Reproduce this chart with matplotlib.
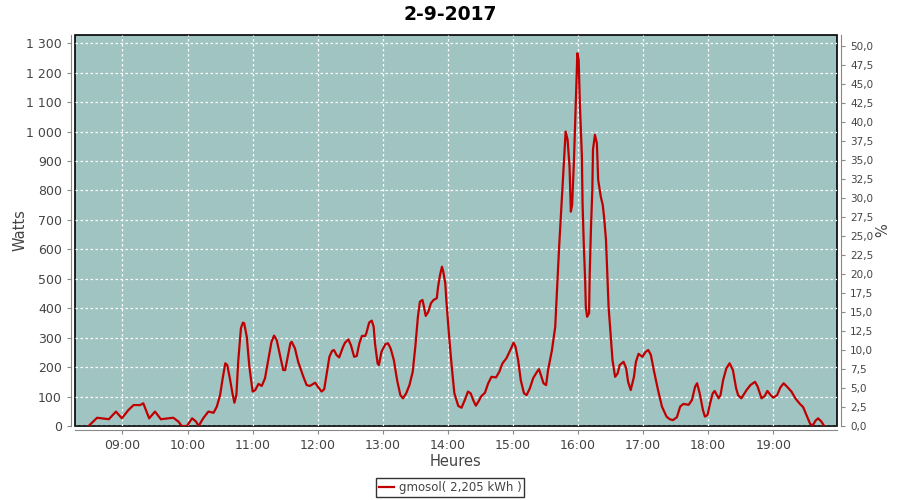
import matplotlib
matplotlib.use("Agg")
import matplotlib.pyplot as plt
from matplotlib.ticker import FuncFormatter, MultipleLocator

# heure décimale / puissance en watts
heures = [8.48, 8.61, 8.79, 8.90, 8.99, 9.09, 9.17, 9.27, 9.32, 9.35, 9.41, 9.50, 9.59,
          9.78, 9.86, 9.91, 9.99, 10.07, 10.13, 10.17, 10.24, 10.32, 10.40, 10.45, 10.50,
          10.54, 10.58, 10.61, 10.65, 10.69, 10.72, 10.75, 10.78, 10.82, 10.85, 10.87,
          10.91, 10.95, 11.00, 11.04, 11.09, 11.14, 11.19, 11.24, 11.29, 11.33, 11.37,
          11.42, 11.47, 11.50, 11.53, 11.58, 11.60, 11.65, 11.70, 11.78, 11.83, 11.88,
          11.96, 12.01, 12.06, 12.10, 12.14, 12.18, 12.22, 12.25, 12.29, 12.33, 12.39,
          12.42, 12.47, 12.51, 12.56, 12.60, 12.64, 12.68, 12.73, 12.75, 12.79, 12.83,
          12.86, 12.88, 12.92, 12.94, 12.98, 13.04, 13.08, 13.12, 13.17, 13.22, 13.27,
          13.31, 13.36, 13.41, 13.46, 13.50, 13.54, 13.57, 13.61, 13.63, 13.66, 13.70,
          13.74, 13.78, 13.83, 13.85, 13.88, 13.91, 13.93, 13.96, 13.98, 14.02, 14.06,
          14.10, 14.16, 14.21, 14.26, 14.31, 14.35, 14.39, 14.43, 14.47, 14.51, 14.57,
          14.62, 14.67, 14.74, 14.79, 14.84, 14.90, 14.96, 15.01, 15.04, 15.08, 15.12,
          15.17, 15.21, 15.26, 15.31, 15.37, 15.40, 15.43, 15.47, 15.51, 15.54, 15.60,
          15.65, 15.68, 15.71, 15.75, 15.79, 15.81, 15.84, 15.87, 15.89, 15.91, 15.94,
          15.97, 15.99, 16.01, 16.03, 16.06, 16.07, 16.09, 16.11, 16.12, 16.14, 16.17,
          16.18, 16.20, 16.22, 16.23, 16.26, 16.29, 16.31, 16.35, 16.38, 16.40, 16.43,
          16.45, 16.47, 16.50, 16.53, 16.57, 16.61, 16.64, 16.70, 16.74, 16.77, 16.81,
          16.86, 16.89, 16.93, 16.99, 17.04, 17.08, 17.12, 17.17, 17.23, 17.29, 17.36,
          17.41, 17.46, 17.52, 17.57, 17.62, 17.70, 17.75, 17.80, 17.83, 17.87, 17.92,
          17.95, 17.99, 18.03, 18.07, 18.10, 18.16, 18.19, 18.23, 18.28, 18.33, 18.38,
          18.43, 18.46, 18.51, 18.59, 18.65, 18.72, 18.76, 18.82, 18.87, 18.91, 18.96,
          19.00, 19.06, 19.11, 19.16, 19.21, 19.28, 19.34, 19.41, 19.46, 19.52, 19.57,
          19.61, 19.65, 19.69, 19.74, 19.78]
watts = [0, 28, 23, 49, 26, 54, 71, 71, 77, 60, 26, 49, 23,
         28, 15, 0, 0, 26, 15, 0, 26, 49, 45, 66, 105,
         162, 213, 207, 162, 111, 79, 105, 224, 332, 351, 349,
         303, 201, 117, 122, 143, 136, 162, 224, 286, 307, 292,
         241, 190, 190, 224, 281, 286, 264, 218, 167, 139, 136,
         147, 131, 117, 125, 179, 235, 255, 258, 241, 233, 269,
         283, 294, 275, 235, 238, 281, 306, 306, 317, 351, 358,
         337, 281, 213, 207, 252, 278, 281, 264, 224, 156, 105,
         94, 111, 139, 184, 269, 371, 422, 428, 408, 374, 388,
         417, 428, 434, 473, 513, 541, 524, 485, 417, 303, 201,
         111, 68, 62, 88, 117, 111, 88, 69, 83, 100, 113,
         145, 167, 165, 184, 213, 230, 258, 283, 269, 224, 156,
         111, 105, 128, 162, 184, 193, 173, 145, 139, 190, 258,
         337, 473, 609, 768, 926, 1000, 972, 881, 728, 751, 915,
         1130, 1266, 1243, 1085, 915, 756, 609, 496, 405, 371, 383,
         519, 677, 802, 938, 989, 960, 836, 779, 751, 711, 632,
         519, 405, 315, 224, 167, 179, 207, 218, 196, 150, 122,
         167, 218, 245, 235, 252, 258, 241, 184, 122, 66, 32,
         23, 20, 30, 66, 75, 72, 88, 134, 145, 111, 54,
         32, 37, 77, 111, 119, 94, 105, 156, 196, 213, 190,
         128, 105, 94, 122, 139, 150, 134, 94, 102, 119, 105,
         96, 105, 131, 145, 134, 117, 94, 75, 64, 32, 6,
         3, 18, 26, 15, 1]

titre = "2-9-2017"
legende = "gmosol( 2,205 kWh )"
w_max = 1328
w_par_pct = 25.8

fond = "#9fc4c2"
rouge = "#c00000"
gris = "#888888"
texte = "#444444"

fig = plt.figure(figsize=(9, 5), dpi=100)
ax = fig.add_axes([0.0833, 0.148, 0.8467, 0.782])
ax.set_facecolor(fond)
ax.patch.set_edgecolor("black")
ax.patch.set_linewidth(1.2)

ax.plot(heures, watts, color=rouge, lw=1.6, label=legende, zorder=3)

ax.set_xlim(8.27, 19.98)
ax.set_ylim(0, w_max)
ax.xaxis.set_major_locator(MultipleLocator(1))
ax.xaxis.set_major_formatter(FuncFormatter(lambda v, p: "%02d:00" % round(v)))
ax.yaxis.set_major_locator(MultipleLocator(100))
ax.yaxis.set_major_formatter(FuncFormatter(lambda v, p: "{:,.0f}".format(v).replace(",", " ")))
ax.grid(True, color="white", ls=(0, (2, 2)), lw=0.9)

for s in ["top", "right"]:
    ax.spines[s].set_visible(False)
for s in ["left", "bottom"]:
    ax.spines[s].set_position(("outward", 3))
    ax.spines[s].set_color(gris)
ax.tick_params(colors=gris, labelcolor=texte, labelsize=9, length=3)

ax2 = ax.twinx()
ax2.set_ylim(0, w_max / w_par_pct)
ax2.yaxis.set_major_locator(MultipleLocator(2.5))
ax2.yaxis.set_major_formatter(FuncFormatter(lambda v, p: ("%.1f" % v).replace(".", ",")))
for s in ["top", "left", "bottom"]:
    ax2.spines[s].set_visible(False)
ax2.spines["right"].set_position(("outward", 3))
ax2.spines["right"].set_color(gris)
ax2.tick_params(colors=gris, labelcolor=texte, labelsize=7.5, length=3)

ax.set_ylabel("Watts", fontsize=10.5, color=texte, labelpad=-1)
ax2.set_ylabel("%", fontsize=10.5, color=texte, labelpad=1)
ax.set_xlabel("Heures", fontsize=10.5, color=texte, labelpad=1)
fig.suptitle(titre, fontsize=13.5, fontweight="bold", y=0.99)

fig.legend(loc="lower center", bbox_to_anchor=(0.5, -0.005), fontsize=8.5, frameon=True,
           fancybox=False, edgecolor="black", handlelength=1.3, handletextpad=0.4,
           borderpad=0.25, labelcolor=texte)

fig.savefig("out.png", dpi=100)
